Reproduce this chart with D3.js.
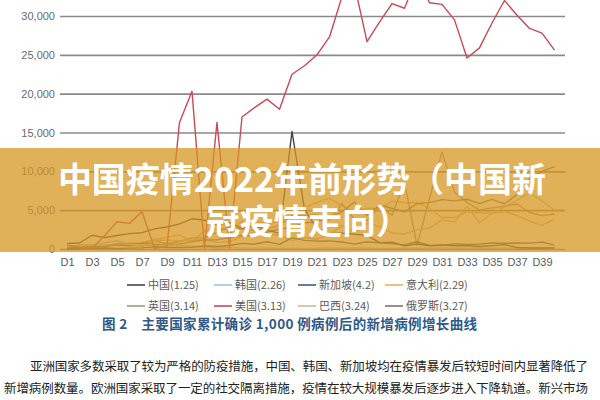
<!DOCTYPE html>
<html><head><meta charset="utf-8">
<script src="https://cdn.jsdelivr.net/npm/d3@7"></script>
<style>html,body{margin:0;padding:0;background:#fff;}svg{display:block;}</style>
</head><body>
<svg id="c" width="600" height="400"></svg>
<script>
// ---- data ----
const days = ["D1","D2","D3","D4","D5","D6","D7","D8","D9","D10","D11","D12","D13","D14","D15","D16","D17","D18","D19","D20",
              "D21","D22","D23","D24","D25","D26","D27","D28","D29","D30","D31","D32","D33","D34","D35","D36","D37","D38","D39","D40"];
const xTickLabels = ["D1","D3","D5","D7","D9","D11","D13","D15","D17","D19","D21","D23","D25","D27","D29","D31","D33","D35","D37","D39"];
const yTicks = [0,5000,10000,15000,20000,25000,30000];

const seriesNames = ["中国(1.25)","韩国(2.26)","新加坡(4.2)","意大利(2.29)","英国(3.14)","美国(3.13)","巴西(3.24)","俄罗斯(3.27)"];
const seriesColors = ["#3f4650","#9dc3e2","#3c5e91","#e8b45c","#a39384","#c94a56","#cdbd93","#7e7667"];

const china = [700,770,1770,1460,1740,1980,2100,2590,2830,3240,3890,3700,3140,3390,2650,2980,2470,2020,15150,5090,
               2640,2010,2050,1890,1750,820,890,400,650,410,510,410,430,330,430,570,200,130,120,140];
const korea = [280,500,570,810,1060,600,520,440,520,480,370,250,130,240,110,110,110,80,70,80,
               90,150,90,150,100,60,80,100,100,90,150,100,80,130,100,90,90,90,80,50];
const singapore = [50,70,80,120,70,110,140,290,200,190,230,390,330,450,730,620,940,600,1430,1110,
                   1020,1040,900,620,930,800,690,530,930,450,450,660,570,630,790,740,770,750,880,490];
const italy = [240,570,340,470,590,770,780,1250,1490,1800,980,2310,2650,2550,3500,3590,3230,3530,4210,5320,
               5990,6560,5560,4790,5250,5210,6150,5960,5970,5220,4050,4050,4780,4670,4590,4810,4320,3600,3040,3840];
const uk = [340,250,150,410,680,640,710,1040,670,970,1430,1450,2130,2890,2550,2430,2620,3010,4320,4240,
            4450,3740,5900,3800,3630,5490,4340,8600,500,6500,12500,7300,6000,5000,5300,5500,5800,4700,4300,4500];
const usa = [500,200,100,1700,3500,3300,4800,100,300,16300,20300,100,16300,100,17000,18200,19300,18000,22500,23600,
             25000,27300,32500,34000,26700,29200,31600,31000,35000,31700,31500,29500,24600,25900,29100,32000,30100,28400,27800,25600];
const brazil = [350,230,480,500,490,350,320,1140,1120,1070,1150,1220,850,930,1660,2210,1930,1780,1090,1440,
                1260,1830,3060,2110,3260,2920,2060,1930,2500,2680,3740,3500,5510,3380,4610,5390,6280,7220,6210,4970];
const russia = [200,230,270,300,500,440,770,600,580,660,950,1150,1180,1460,1790,1670,2190,2560,2770,3390,
                3450,4070,4790,6060,4270,5640,5240,4770,5850,5970,6360,6200,6410,5840,6400,5800,7000,9100,10000,10600];
const seriesValues = [china, korea, singapore, italy, uk, usa, brazil, russia];

const bannerLines = ["中国疫情2022年前形势（中国新","冠疫情走向）"];
const caption = "图 2　主要国家累计确诊 1,000 例病例后的新增病例增长曲线";
const bodyLines = ["亚洲国家多数采取了较为严格的防疫措施，中国、韩国、新加坡均在疫情暴发后较短时间内显著降低了",
                   "新增病例数量。欧洲国家采取了一定的社交隔离措施，疫情在较大规模暴发后逐步进入下降轨道。新兴市场"];

// ---- chart ----
const svg = d3.select("#c");
const latin = "'Liberation Sans', Arial, sans-serif";
const cjk = "'Noto Sans CJK SC', 'Liberation Sans', sans-serif";

const x = d3.scalePoint().domain(days).range([67, 554.5]);
const y = d3.scaleLinear().domain([0, 30000]).range([249, 16]);

const gy = svg.append("g").attr("transform","translate(60,0)")
  .call(d3.axisLeft(y).tickValues(yTicks).tickSize(-505).tickPadding(5).tickFormat(d3.format(",")));
gy.select(".domain").remove();
gy.selectAll(".tick line").attr("stroke","#8a8a8a").attr("stroke-width",1.6);
gy.selectAll(".tick text").attr("fill","#6a6a6a").style("font-family",latin).style("font-size","11px");

const gx = svg.append("g").attr("transform","translate(0,249)")
  .call(d3.axisBottom(x).tickValues(xTickLabels).tickSize(0).tickPadding(9));
gx.select(".domain").remove();
gx.selectAll(".tick text").attr("fill","#5a5a5a").style("font-family",latin).style("font-size","11px");

const line = d3.line().x((d,i)=>x(days[i])).y(d=>y(d));
const order = [3,4,6,7,1,2,0,5];
order.forEach(k=>{
  svg.append("path").datum(seriesValues[k]).attr("d",line)
    .attr("fill","none").attr("stroke",seriesColors[k]).attr("stroke-width",1.4)
    .attr("stroke-linejoin","round");
});

// banner overlay
svg.append("rect").attr("x",0).attr("y",148).attr("width",600).attr("height",104)
  .attr("fill","rgb(214,150,32)").attr("opacity",0.74);
const bt = svg.append("text").attr("text-anchor","middle")
  .style("font-family",cjk).style("font-weight","bold").style("font-size","34px").attr("fill","#fff");
bt.append("tspan").attr("x",302).attr("y",192).text(bannerLines[0]);
bt.append("tspan").attr("x",308).attr("y",234).text(bannerLines[1]);

// legend
const legX = [127,214,298,385];
const legY = [285,306];
seriesNames.forEach((n,i)=>{
  const lx = legX[i%4], ly = legY[Math.floor(i/4)];
  svg.append("line").attr("x1",lx).attr("x2",lx+18).attr("y1",ly).attr("y2",ly)
    .attr("stroke",seriesColors[i]).attr("stroke-width",1.6);
  svg.append("text").attr("x",lx+21).attr("y",ly+4).attr("fill","#5a5a5a")
    .style("font-family",cjk).style("font-size","11px").text(n);
});

// caption
svg.append("text").attr("x",102).attr("y",329).attr("fill","#2f5a88")
  .style("font-family",cjk).style("font-weight","bold").style("font-size","13.5px")
  .attr("textLength",375).attr("lengthAdjust","spacing").text(caption);

// body text
svg.append("text").attr("x",30).attr("y",371).attr("fill","#222")
  .style("font-family",cjk).style("font-size","12.5px")
  .attr("textLength",558).attr("lengthAdjust","spacing").text(bodyLines[0]);
svg.append("text").attr("x",4).attr("y",393).attr("fill","#222")
  .style("font-family",cjk).style("font-size","12.5px")
  .attr("textLength",584).attr("lengthAdjust","spacing").text(bodyLines[1]);
</script>
</body></html>
